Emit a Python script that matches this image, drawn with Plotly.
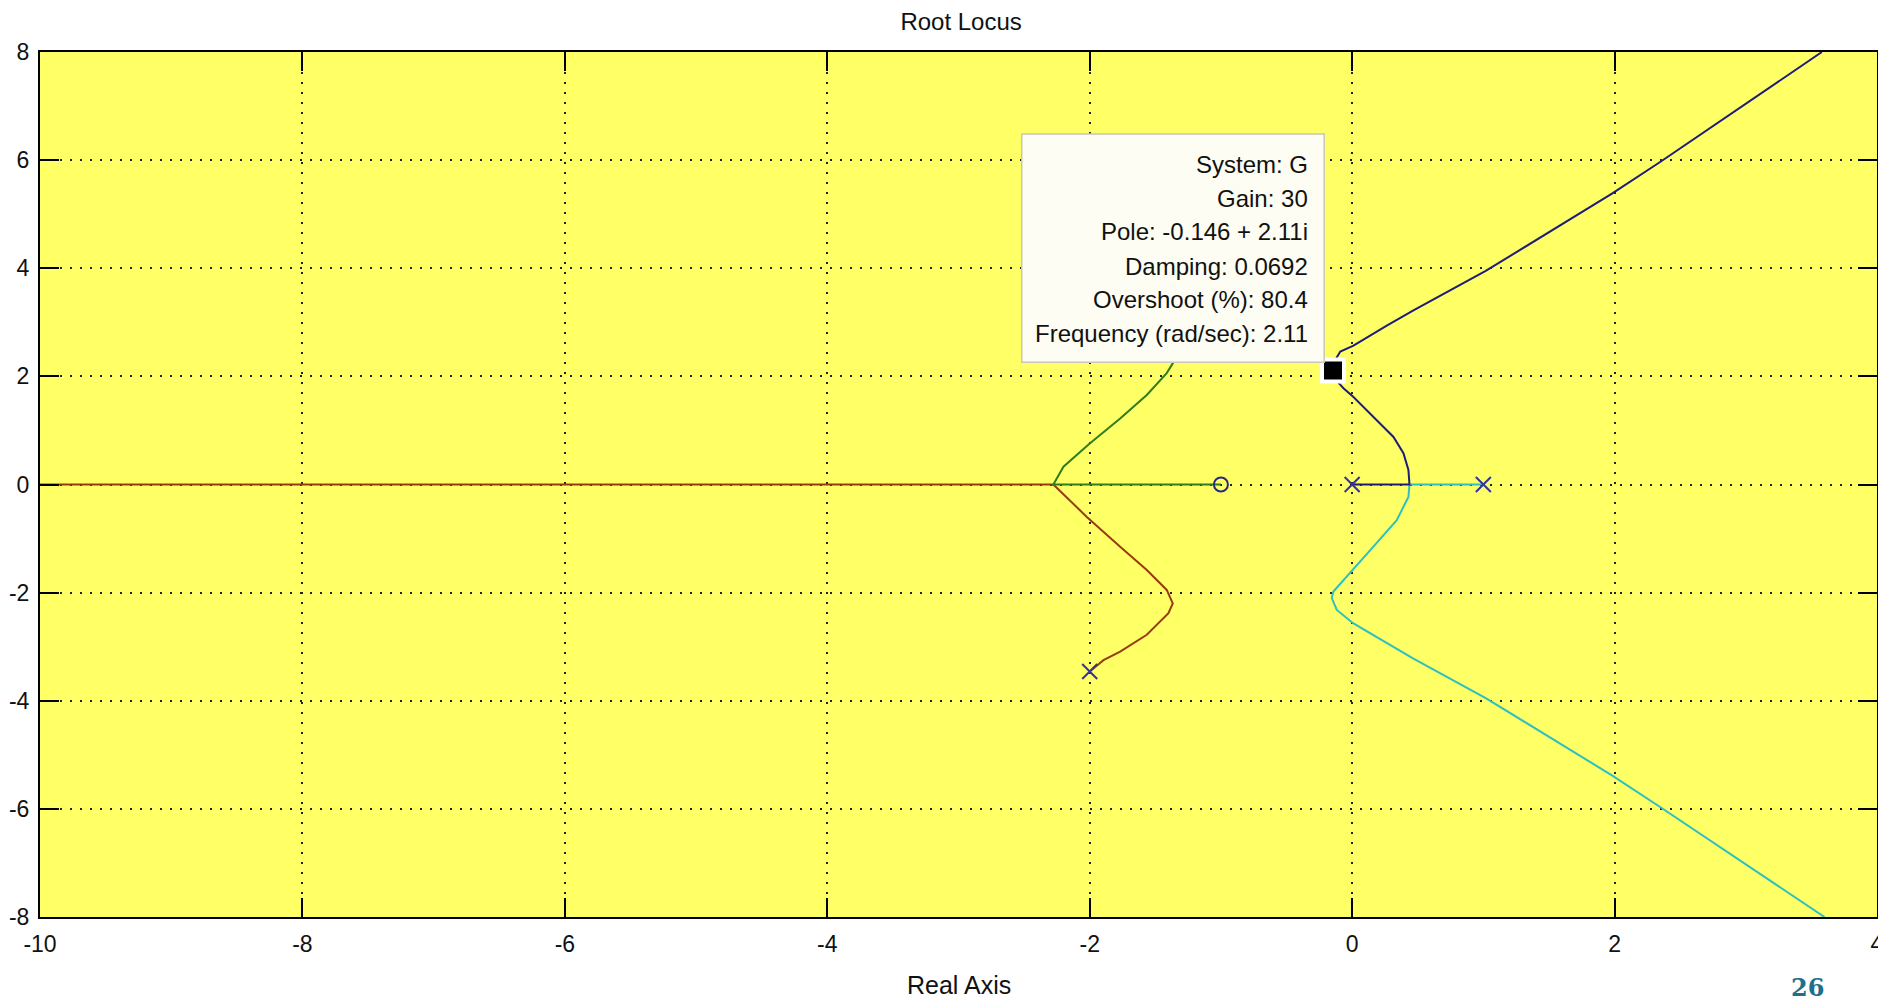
import plotly.graph_objects as go

# ---- data ----
red_x = [-2.0, -1.895, -1.768, -1.565, -1.40, -1.367, -1.413, -1.565, -1.768, -2.022, -2.277, -10.0]
red_y = [-3.46, -3.25, -3.09, -2.78, -2.38, -2.20, -1.95, -1.58, -1.15, -0.60, 0.0, 0.0]

green_x = [-2.0, -1.895, -1.768, -1.565, -1.40, -1.367, -1.413, -1.565, -1.768, -2.0, -2.20, -2.277, -1.0]
green_y = [3.46, 3.25, 3.09, 2.78, 2.38, 2.24, 2.06, 1.655, 1.22, 0.76, 0.33, 0.0, 0.0]

blue_x = [0.0, 0.437, 0.429, 0.391, 0.315, 0.162, 0.010, -0.066, -0.13, -0.155, -0.13, -0.09, 0.01, 0.264, 0.467, 1.018, 1.98, 2.35, 3.58]
blue_y = [0.0, 0.0, 0.27, 0.58, 0.88, 1.25, 1.62, 1.78, 1.95, 2.11, 2.30, 2.46, 2.57, 2.94, 3.22, 3.95, 5.38, 5.97, 8.0]

cyan_x = [1.0, 0.437, 0.429, 0.34, 0.162, -0.015, -0.143, -0.155, -0.117, 0.01, 0.264, 0.467, 1.018, 1.98, 2.35, 3.6]
cyan_y = [0.0, 0.0, -0.23, -0.66, -1.15, -1.64, -1.98, -2.10, -2.32, -2.57, -2.94, -3.22, -3.95, -5.38, -5.97, -8.0]

pole_x = [0.0, 1.0, -2.0, -2.0]
pole_y = [0.0, 0.0, -3.46, 3.46]
zero_x = [-1.0]
zero_y = [0.0]

sel_x = [-0.146]
sel_y = [2.11]

info_lines = [
    "System: G",
    "Gain: 30",
    "Pole: -0.146 + 2.11i",
    "Damping: 0.0692",
    "Overshoot (%): 80.4",
    "Frequency (rad/sec): 2.11",
]

x_ticks = [-10, -8, -6, -4, -2, 0, 2, 4]
y_ticks = [-8, -6, -4, -2, 0, 2, 4, 6, 8]

# ---- styling ----
FONT = "Liberation Sans, Arial, sans-serif"
YELLOW = "#FFFF66"

fig = go.Figure()

def branch(x, y, color):
    fig.add_trace(go.Scatter(x=x, y=y, mode="lines",
                             line=dict(color=color, width=2),
                             hoverinfo="skip", showlegend=False))

branch(red_x, red_y, "#9A3A12")
branch(green_x, green_y, "#2E7D1E")
branch(cyan_x, cyan_y, "#2EC0C0")
branch(blue_x, blue_y, "#1E1E78")

fig.add_trace(go.Scatter(x=pole_x, y=pole_y, mode="markers",
                         marker=dict(symbol="x-thin", size=15, color="#34349A",
                                     line=dict(color="#34349A", width=2)),
                         hoverinfo="skip", showlegend=False))
fig.add_trace(go.Scatter(x=zero_x, y=zero_y, mode="markers",
                         marker=dict(symbol="circle-open", size=14, color="#2A2A80",
                                     line=dict(color="#2A2A80", width=2)),
                         hoverinfo="skip", showlegend=False))
fig.add_trace(go.Scatter(x=sel_x, y=sel_y, mode="markers",
                         marker=dict(symbol="square", size=22, color="black",
                                     line=dict(color="white", width=4)),
                         hoverinfo="skip", showlegend=False))

# data tip box
fig.add_shape(type="rect", xref="x", yref="y",
              x0=-2.518, x1=-0.213, y0=2.26, y1=6.483,
              fillcolor="#FDFDF3", line=dict(color="#C8C8B8", width=1.5),
              layer="above")
line_ys = [5.91, 5.294, 4.676, 4.029, 3.413, 2.797]
for txt, yy in zip(info_lines, line_ys):
    fig.add_annotation(x=-0.32, y=yy, xref="x", yref="y", text=txt,
                       showarrow=False, xanchor="right", yanchor="middle",
                       font=dict(family=FONT, size=24, color="#111111"))

fig.add_annotation(x=0.5, y=-0.0786, xref="paper", yref="paper",
                   text="Real Axis", showarrow=False,
                   xanchor="center", yanchor="middle",
                   font=dict(family=FONT, size=25, color="#111111"))
fig.add_annotation(x=0.962, y=-0.081, xref="paper", yref="paper",
                   text="<b>26</b>", showarrow=False,
                   xanchor="center", yanchor="middle",
                   font=dict(family="DejaVu Serif, Liberation Serif, serif",
                             size=24, color="#1E6E8C"))

axis_common = dict(
    showline=True, linecolor="black", linewidth=2, mirror="ticks",
    ticks="inside", ticklen=19, tickwidth=2, tickcolor="black",
    showgrid=True, gridcolor="#222222", gridwidth=2, griddash="2px,8px",
    zeroline=False, automargin=False,
    tickfont=dict(family=FONT, size=23, color="#111111"),
)

fig.update_xaxes(range=[-10, 4], tickvals=x_ticks,
                 ticktext=[str(v) for v in x_ticks], ticklabelstandoff=5,
                 **axis_common)
fig.update_yaxes(range=[-8, 8], tickvals=y_ticks,
                 ticktext=[str(v) for v in y_ticks], ticklabelstandoff=4,
                 **axis_common)

# page body has an 8px margin: figure starts at (8, 8)
fig.update_layout(
    width=1878, height=994,
    paper_bgcolor="white", plot_bgcolor=YELLOW,
    margin=dict(l=32, r=9, t=44, b=85),
    title=dict(text="Root Locus", x=0.5075, xanchor="center",
               y=1 - 14 / 994, yanchor="middle", yref="container",
               font=dict(family=FONT, size=24, color="#111111")),
    showlegend=False,
)

fig.write_html("out.html")
